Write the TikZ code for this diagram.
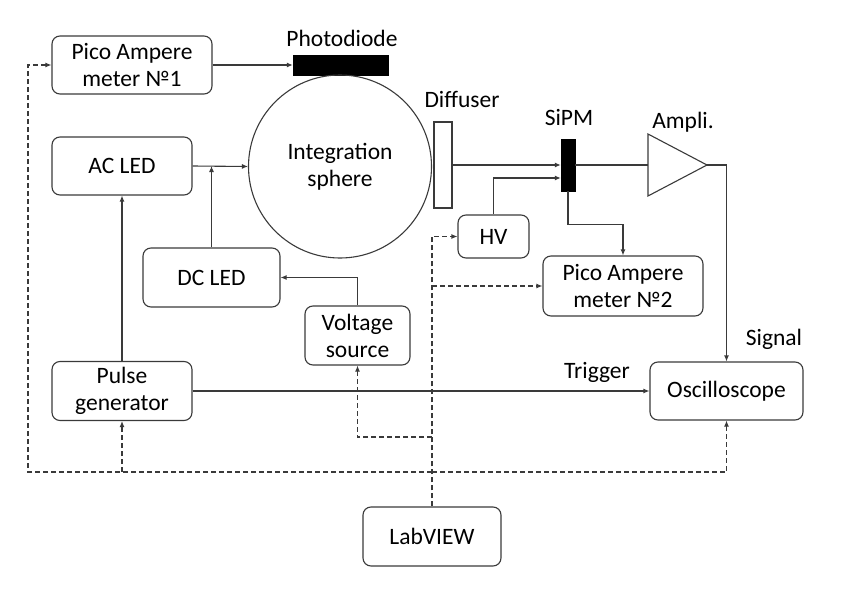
\documentclass[tikz,border=0pt]{standalone}
\usepackage{fontspec}
\setmainfont{Carlito}
\usetikzlibrary{arrows.meta}
\definecolor{ln}{HTML}{3A3A3A}
\begin{document}
\begin{tikzpicture}[x=1pt,y=-1pt,
  txt/.style={font=\fontsize{23.5}{27}\selectfont},
  box/.style={txt,draw=ln,line width=1.1pt,rounded corners=8pt,align=center,inner sep=0pt},
  lbl/.style={txt,inner sep=0pt},
  conn/.style={draw=ln,line width=1.1pt},
  arr/.style={conn,-{Latex[length=6pt,width=5pt]}},
  dline/.style={conn,dash pattern=on 5pt off 3pt},
  darr/.style={arr,dash pattern=on 5pt off 3pt}]
\useasboundingbox (0,0) rectangle (847,589);
% boxes
\node[box,minimum width=160pt,minimum height=58pt] (pam1) at (132,65) {Pico Ampere\\meter №1};
\node[box,minimum width=140pt,minimum height=58pt] (acled) at (122,166) {AC LED};
\node[box,minimum width=137pt,minimum height=59pt] (dcled) at (211.5,277.5) {DC LED};
\node[box,minimum width=105pt,minimum height=59pt] (vsrc) at (357.5,335.5) {Voltage\\source};
\node[box,minimum width=140pt,minimum height=59pt] (pulse) at (122,391) {Pulse\\generator};
\node[box,minimum width=71pt,minimum height=43pt] (hv) at (493.5,236.5) {HV};
\node[box,minimum width=160pt,minimum height=60pt] (pam2) at (623,286) {Pico Ampere\\meter №2};
\node[box,minimum width=153pt,minimum height=58pt] (osc) at (726.5,391) {Oscilloscope};
\node[box,minimum width=138pt,minimum height=59pt] (lab) at (432,536.5) {LabVIEW};
% optical elements
\node[draw=black,fill=black,minimum width=95pt,minimum height=20pt,inner sep=0pt] (pd) at (340.5,65) {};
\node[lbl] at (342,38) {Photodiode};
\node[txt,draw=ln,line width=1.1pt,circle,minimum size=183pt,inner sep=0pt,align=center] (sph) at (340,166.5) {Integration\\sphere};
\node[draw=ln,line width=1.1pt,fill=white,minimum width=18pt,minimum height=86pt,inner sep=0pt] (dif) at (443,165) {};
\node[lbl] at (462,99) {Diffuser};
\node[draw=black,fill=black,minimum width=14pt,minimum height=52pt,inner sep=0pt] (sipm) at (568,165) {};
\node[lbl] at (569,117) {SiPM};
\coordinate (ampin) at (648,165);
\coordinate (ampout) at (707,165);
\draw[ln,line width=1.1pt] (648,134) -- (ampout) -- (648,196) -- cycle;
\node[lbl] at (683,122) {Ampli.};
\node[lbl] at (597,372) {Trigger};
\node[lbl] at (774,339) {Signal};
% solid connectors
\draw[arr] (pam1.east) -- (pd.west);
\draw[arr] (acled.east) -- (sph.west);
\draw[arr] (dcled.north) -- (dcled.north |- acled.east);
\draw[arr] (vsrc.north) |- (dcled.east);
\draw[arr] (pulse.north) -- (acled.south);
\draw[arr] (pulse.east) -- (osc.west);
\draw[arr] (dif.east) -- (sipm.west);
\draw[conn] (sipm.east) -- (ampin);
\draw[arr] (ampout) -- ++(19,0) -| (osc.north);
\draw[arr] (hv.north) |- ([yshift=-13pt]sipm.west);
\draw[arr] (sipm.south) -- ++(0,33) -| (pam2.north);
% dashed control lines
\coordinate (trunk) at (lab.north |- 0,472);
\coordinate (loopL) at (28,472);
\draw[darr] (lab.north) |- (hv.west);
\draw[darr] (lab.north |- pam2.west) -- (pam2.west);
\draw[darr] (lab.north |- 0,437) -| (vsrc.south);
\draw[darr] (trunk) -- (loopL) |- (pam1.west);
\draw[darr] (trunk) -| (osc.south);
\draw[darr] (pulse.south |- trunk) -- (pulse.south);
\end{tikzpicture}
\end{document}
